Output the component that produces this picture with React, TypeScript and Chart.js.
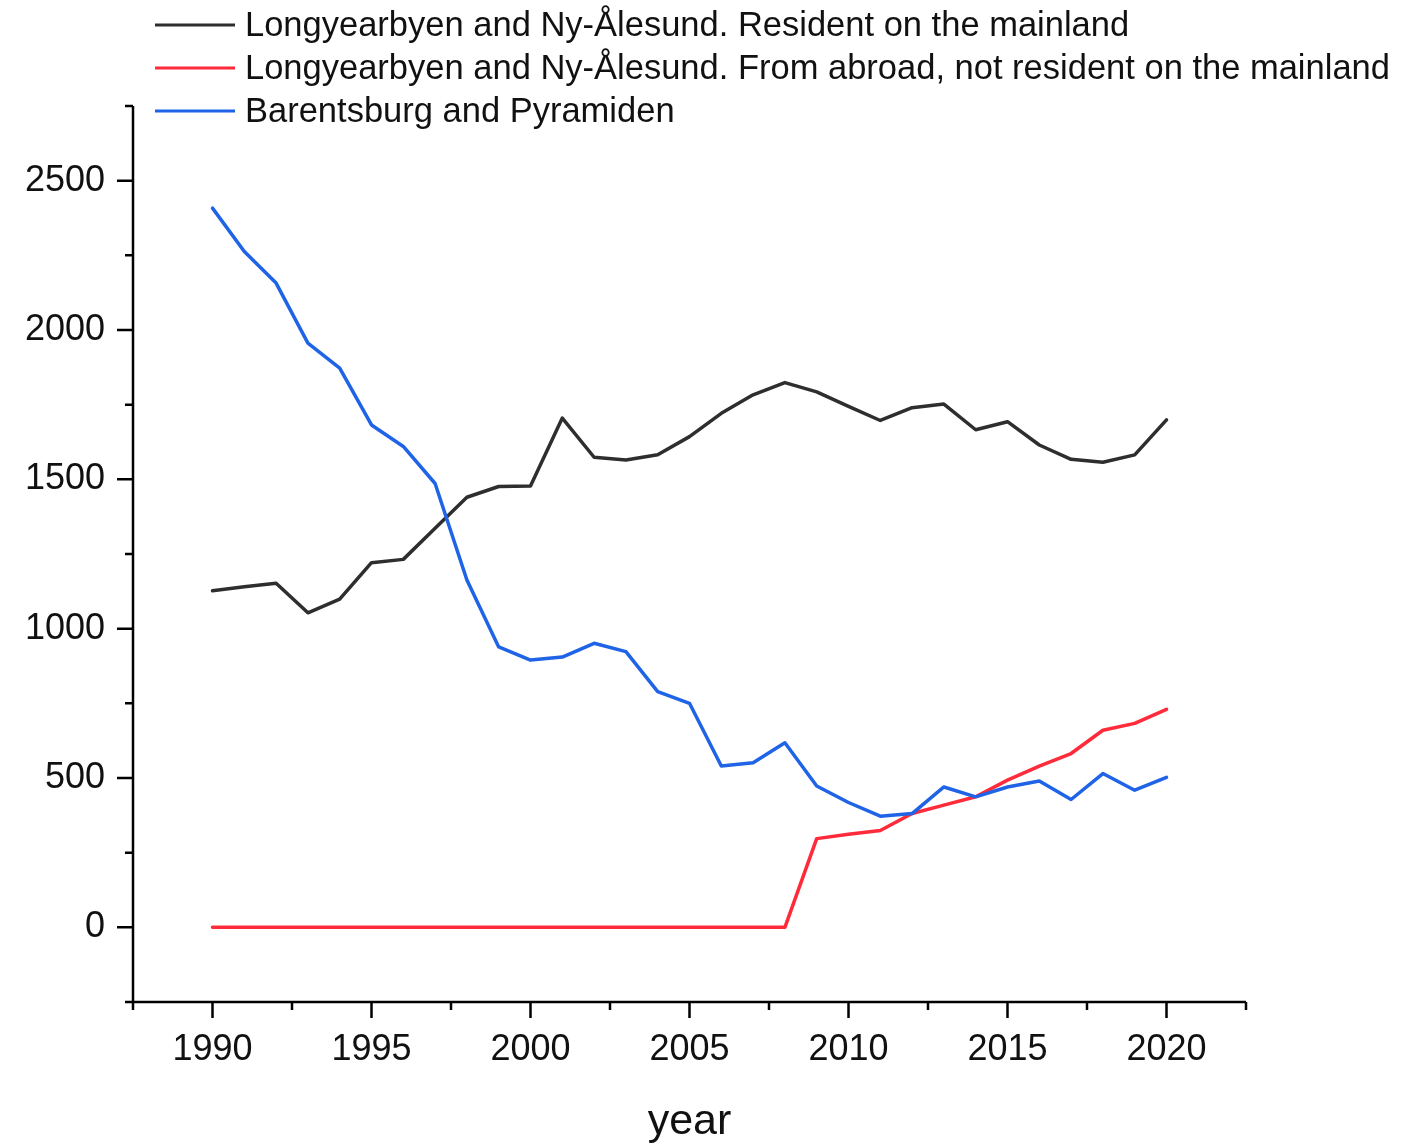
import { useEffect, useRef } from "react";
import { Chart, registerables } from "chart.js";
Chart.register(...registerables);

const years = [1990, 1991, 1992, 1993, 1994, 1995, 1996, 1997, 1998, 1999, 2000, 2001, 2002, 2003, 2004, 2005, 2006, 2007, 2008, 2009, 2010, 2011, 2012, 2013, 2014, 2015, 2016, 2017, 2018, 2019, 2020];
const residentMainland = [1127, 1140, 1152, 1053, 1099, 1221, 1232, 1336, 1440, 1476, 1478, 1705, 1574, 1565, 1582, 1643, 1721, 1783, 1824, 1793, 1744, 1697, 1740, 1752, 1666, 1693, 1615, 1567, 1557, 1582, 1699];
const fromAbroad = [0, 0, 0, 0, 0, 0, 0, 0, 0, 0, 0, 0, 0, 0, 0, 0, 0, 0, 0, 297, 312, 324, 381, 409, 437, 493, 540, 582, 660, 683, 730];
const barentsburg = [2408, 2263, 2157, 1956, 1872, 1682, 1610, 1486, 1163, 939, 895, 905, 951, 923, 789, 750, 540, 551, 618, 473, 418, 372, 381, 470, 437, 470, 490, 428, 515, 459, 502];
const seriesNames = [
  "Longyearbyen and Ny-Ålesund. Resident on the mainland",
  "Longyearbyen and Ny-Ålesund. From abroad, not resident on the mainland",
  "Barentsburg and Pyramiden",
];
const xTickLabels = [1990, 1995, 2000, 2005, 2010, 2015, 2020];
const yTickLabels = [0, 500, 1000, 1500, 2000, 2500];

const COLORS = ["#2e2e2e", "#ff2a3a", "#1f63e6"];
const FONT = "'Liberation Sans', Arial, sans-serif";

const axesPlugin = {
  id: "originAxes",
  afterDraw(chart: any) {
    const { ctx, chartArea, scales } = chart;
    const { left, right, top, bottom } = chartArea;
    const xs = scales.x;
    const ys = scales.y;
    ctx.save();
    ctx.strokeStyle = "#000";
    ctx.lineWidth = 2.5;
    ctx.lineCap = "butt";
    ctx.beginPath();
    ctx.moveTo(left, top);
    ctx.lineTo(left, bottom);
    ctx.lineTo(right, bottom);
    ctx.stroke();
    ctx.beginPath();
    const xStep = xTickLabels[1] - xTickLabels[0];
    for (let i = -1; i < xTickLabels.length; i++) {
      if (i >= 0) {
        const px = xs.getPixelForValue(xTickLabels[i]);
        ctx.moveTo(px, bottom);
        ctx.lineTo(px, bottom + 16);
      }
      const base = i >= 0 ? xTickLabels[i] : xTickLabels[0] - xStep;
      const mpx = xs.getPixelForValue(base + xStep / 2);
      if (mpx >= left - 1 && mpx <= right + 1) {
        ctx.moveTo(mpx, bottom);
        ctx.lineTo(mpx, bottom + 8);
      }
    }
    const yStep = yTickLabels[1] - yTickLabels[0];
    for (let i = -1; i < yTickLabels.length; i++) {
      if (i >= 0) {
        const py = ys.getPixelForValue(yTickLabels[i]);
        ctx.moveTo(left, py);
        ctx.lineTo(left - 16, py);
      }
      const base = i >= 0 ? yTickLabels[i] : yTickLabels[0] - yStep;
      const mpy = ys.getPixelForValue(base + yStep / 2);
      if (mpy >= top - 1 && mpy <= bottom + 1) {
        ctx.moveTo(left, mpy);
        ctx.lineTo(left - 8, mpy);
      }
    }
    ctx.stroke();

    // legend
    ctx.font = `34.5px ${FONT}`;
    ctx.textBaseline = "middle";
    ctx.textAlign = "left";
    const rows = [25, 68, 111];
    seriesNames.forEach((name, i) => {
      ctx.strokeStyle = COLORS[i];
      ctx.lineWidth = 3;
      ctx.beginPath();
      ctx.moveTo(155, rows[i]);
      ctx.lineTo(235, rows[i]);
      ctx.stroke();
      ctx.fillStyle = "#111";
      ctx.fillText(name, 245, rows[i] + 1);
    });
    ctx.restore();
  },
};

export default function App() {
  const ref = useRef<HTMLCanvasElement>(null);
  useEffect(() => {
    const mk = (vals: number[]) => years.map((y, i) => ({ x: y, y: vals[i] }));
    const common = { borderWidth: 3.5, pointRadius: 0, tension: 0, borderJoinStyle: "round" as const, borderCapStyle: "round" as const };
    const chart = new Chart(ref.current!, {
      type: "line",
      data: {
        datasets: [
          { label: seriesNames[0], data: mk(residentMainland), borderColor: COLORS[0], order: 3, ...common },
          { label: seriesNames[1], data: mk(fromAbroad), borderColor: COLORS[1], order: 2, ...common },
          { label: seriesNames[2], data: mk(barentsburg), borderColor: COLORS[2], order: 1, ...common },
        ],
      },
      options: {
        animation: false,
        responsive: true,
        maintainAspectRatio: false,
        layout: { padding: { left: 0, top: 106, right: 159, bottom: 0 } },
        plugins: { legend: { display: false }, tooltip: { enabled: false } },
        scales: {
          x: {
            type: "linear",
            min: 1987.5,
            max: 2022.5,
            grid: { display: false, drawTicks: false },
            border: { display: false },
            afterBuildTicks: (s: any) => {
              s.ticks = xTickLabels.map((v) => ({ value: v }));
            },
            afterFit: (s: any) => {
              s.height = 142;
            },
            ticks: {
              autoSkip: false,
              maxRotation: 0,
              padding: 26,
              color: "#111",
              font: { size: 36, family: FONT },
              callback: (v: any) => String(v),
            },
            title: {
              display: true,
              text: "year",
              color: "#111",
              font: { size: 43, family: FONT },
              padding: { top: 0, bottom: -4 },
            },
          },
          y: {
            type: "linear",
            min: -250,
            max: 2750,
            grid: { display: false, drawTicks: false },
            border: { display: false },
            afterBuildTicks: (s: any) => {
              s.ticks = yTickLabels.map((v) => ({ value: v }));
            },
            afterFit: (s: any) => {
              s.width = 133;
            },
            ticks: {
              padding: 28,
              color: "#111",
              font: { size: 36, family: FONT },
              callback: (v: any) => String(v),
            },
          },
        },
      },
      plugins: [axesPlugin],
    });
    return () => chart.destroy();
  }, []);
  return (
    <div style={{ position: "fixed", left: 0, top: 0, width: 1405, height: 1144, background: "#fff" }}>
      <canvas ref={ref} />
    </div>
  );
}
